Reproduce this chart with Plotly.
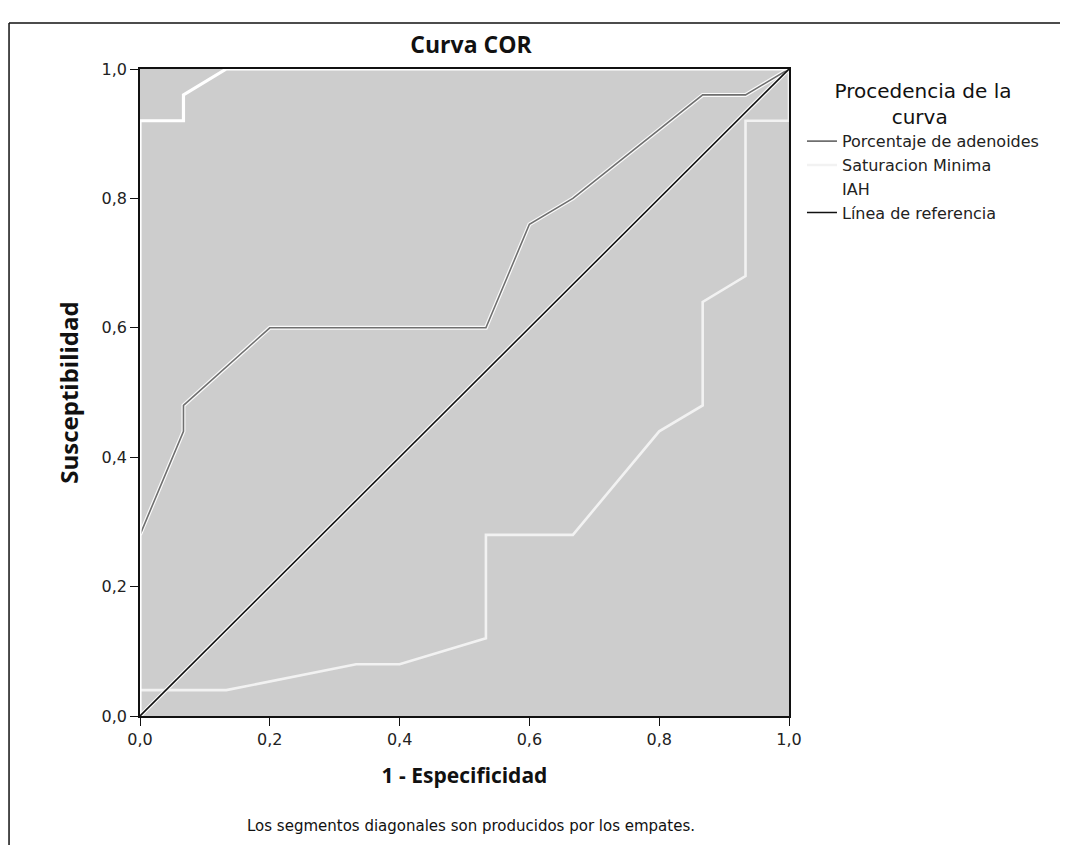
import plotly.graph_objects as go

# ---- data ----
adenoides_x = [0.0, 0.067, 0.067, 0.2, 0.533, 0.6, 0.667, 0.867, 0.933, 1.0]
adenoides_y = [0.28, 0.44, 0.48, 0.6, 0.6, 0.76, 0.80, 0.96, 0.96, 1.0]

saturacion_x = [0.0, 0.133, 0.333, 0.4, 0.533, 0.533, 0.667, 0.8, 0.867, 0.867, 0.933, 0.933, 1.0, 1.0]
saturacion_y = [0.04, 0.04, 0.08, 0.08, 0.12, 0.28, 0.28, 0.44, 0.48, 0.64, 0.68, 0.92, 0.92, 1.0]

iah_x = [0.0, 0.0, 0.067, 0.067, 0.133, 1.0]
iah_y = [0.0, 0.92, 0.92, 0.96, 1.0, 1.0]

ref_x = [0.0, 1.0]
ref_y = [0.0, 1.0]

tick_vals = [0.0, 0.2, 0.4, 0.6, 0.8, 1.0]
tick_text = ["0,0", "0,2", "0,4", "0,6", "0,8", "1,0"]

fig = go.Figure()

# white halos (scanned emboss look)
for xs, ys in [(adenoides_x, adenoides_y), (ref_x, ref_y)]:
    fig.add_trace(go.Scatter(x=xs, y=ys, mode="lines", showlegend=False, hoverinfo="skip",
                             line=dict(color="rgba(255,255,255,0.9)", width=4)))

fig.add_trace(go.Scatter(x=adenoides_x, y=adenoides_y, mode="lines", name="Porcentaje de adenoides",
                         line=dict(color="#6f6f6f", width=1.6)))
fig.add_trace(go.Scatter(x=saturacion_x, y=saturacion_y, mode="lines", name="Saturacion Minima",
                         line=dict(color="#f2f2f2", width=2.6)))
fig.add_trace(go.Scatter(x=iah_x, y=iah_y, mode="lines", name="IAH",
                         line=dict(color="#ffffff", width=3.2)))
fig.add_trace(go.Scatter(x=ref_x, y=ref_y, mode="lines", name="Línea de referencia",
                         line=dict(color="#111111", width=1.6)))

axis_common = dict(range=[0, 1], tickvals=tick_vals, ticktext=tick_text, showgrid=False,
                   zeroline=False, showline=True, linecolor="#111111", linewidth=1.5,
                   mirror=True, ticks="outside", ticklen=8, tickwidth=1.3, tickcolor="#111111",
                   tickfont=dict(family="DejaVu Sans", size=16, color="#222222"))

W, H = 1060, 837
legend_title = "Procedencia de la<br>" + "&nbsp;" * 9 + "curva"
fig.update_layout(
    width=W, height=H,
    margin=dict(l=132, r=279, t=61, b=129),
    paper_bgcolor="white", plot_bgcolor="#cdcdcd",
    separators=",.",
    title=dict(text="<b>Curva COR</b>", x=0.51, xref="paper", y=1 - 37 / H, yref="container",
               xanchor="center", yanchor="middle",
               font=dict(family="Open Sans", size=23, color="#111111")),
    xaxis=dict(**axis_common,
               title=dict(text="<b>1 - Especificidad</b>", standoff=20,
                          font=dict(family="Open Sans", size=21, color="#111111"))),
    yaxis=dict(**axis_common,
               title=dict(text="<b>Susceptibilidad</b>", standoff=16,
                          font=dict(family="Open Sans", size=24, color="#111111"))),
    legend=dict(x=1.02, y=0.995, xanchor="left", yanchor="top",
                bgcolor="rgba(0,0,0,0)", borderwidth=0,
                font=dict(family="DejaVu Sans", size=16, color="#222222"),
                title=dict(text=legend_title, side="top center",
                           font=dict(family="DejaVu Sans", size=20, color="#111111")),
                itemwidth=30, tracegroupgap=0),
    showlegend=True,
)

fig.add_annotation(text="Los segmentos diagonales son producidos por los empates.",
                   x=0.51, y=-0.17, xref="paper", yref="paper", showarrow=False,
                   xanchor="center", yanchor="middle",
                   font=dict(family="DejaVu Sans", size=15, color="#111111"))

# outer frame of the scanned output box
fig.add_shape(type="line", xref="paper", yref="paper", x0=-0.2018, x1=-0.2018, y0=1.071, y1=-0.25,
              line=dict(color="#111111", width=1.5))
fig.add_shape(type="line", xref="paper", yref="paper", x0=-0.2018, x1=1.422, y0=1.071, y1=1.071,
              line=dict(color="#111111", width=1.5))
fig.add_shape(type="line", xref="paper", yref="paper", x0=1.422, x1=1.422, y0=1.071, y1=-0.25,
              line=dict(color="#777777", width=1))

fig.write_html("out.html")
